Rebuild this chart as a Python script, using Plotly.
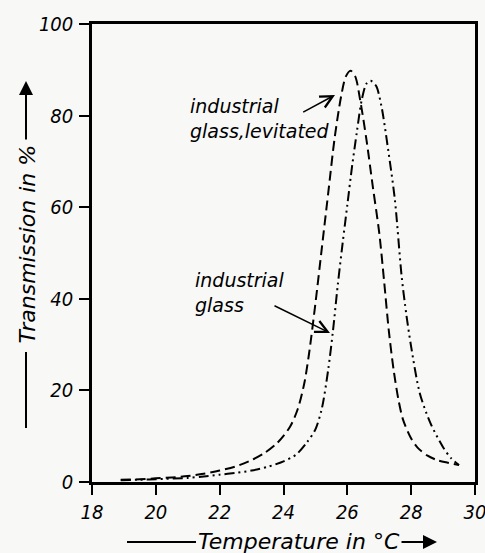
import plotly.graph_objects as go

# ---- data ----
temp_levitated = [18.9, 19.5, 20.0, 20.5, 21.0, 21.5, 22.0, 22.5, 23.0, 23.4, 23.8, 24.2, 24.45,
                  24.65, 24.8, 25.0, 25.2, 25.4, 25.6, 25.8, 25.95, 26.1, 26.25, 26.4, 26.6,
                  26.8, 27.0, 27.15, 27.3, 27.45, 27.6, 27.75, 28.0, 28.2, 28.5, 28.8, 29.15, 29.5]
trans_levitated = [0.5, 0.6, 0.8, 1.0, 1.3, 1.8, 2.5, 3.4, 4.8, 6.3, 8.5, 12.0, 16.0,
                   21.5, 28.0, 39.0, 51.0, 63.0, 75.0, 84.0, 88.5, 89.8, 88.5, 83.5, 74.7,
                   64.4, 54.4, 44.0, 33.0, 24.5, 18.0, 13.5, 9.5, 7.5, 5.8, 4.8, 4.2, 3.7]

temp_industrial = [18.9, 19.5, 20.0, 21.0, 21.5, 22.0, 22.5, 23.0, 23.5, 24.0, 24.4, 24.75, 25.0,
                   25.2, 25.4, 25.55, 25.7, 25.85, 26.0, 26.15, 26.3, 26.45, 26.6, 26.73, 26.9,
                   27.07, 27.28, 27.49, 27.7, 27.85, 28.0, 28.27, 28.6, 29.0, 29.25, 29.5]
trans_industrial = [0.4, 0.5, 0.6, 0.9, 1.2, 1.6, 2.0, 2.5, 3.3, 4.5, 6.0, 8.8, 11.5,
                    16.0, 24.5, 33.0, 43.0, 52.0, 60.5, 69.0, 76.5, 83.4, 87.0, 87.6, 86.5,
                    82.0, 72.5, 61.6, 45.0, 36.5, 29.5, 19.4, 12.9, 7.6, 5.2, 3.7]

x_ticks = [18, 20, 22, 24, 26, 28, 30]
y_ticks = [0, 20, 40, 60, 80, 100]

label_levitated = "industrial<br>glass,levitated"
label_industrial = "industrial<br>glass"
x_title = "Temperature in °C"
y_title = "Transmission in %"

W, H = 485, 553
L, R, T, B = 92, 10, 24, 71
PW, PH = W - L - R, H - T - B


def px(xp):
    return (xp - L) / PW


def py(yp):
    return (H - B - yp) / PH


BG = "#f8f8f7"
TXT_FONT = "DejaVu Sans, Liberation Sans, sans-serif"
NUM_FONT = "DejaVu Sans Condensed, Liberation Sans, sans-serif"

fig = go.Figure()
fig.add_trace(go.Scatter(
    x=temp_levitated, y=trans_levitated, mode="lines",
    line=dict(color="black", width=2, dash="10px,5px", shape="spline", smoothing=0.8),
    name="industrial glass, levitated", showlegend=False))
fig.add_trace(go.Scatter(
    x=temp_industrial, y=trans_industrial, mode="lines",
    line=dict(color="black", width=2, dash="10px,4px,2px,4px,2px,4px", shape="spline", smoothing=0.8),
    name="industrial glass", showlegend=False))

axis_common = dict(showline=True, linecolor="black", linewidth=2.5, mirror=True,
                   ticks="outside", ticklen=10, tickwidth=2, tickcolor="black",
                   showgrid=False, zeroline=False, ticklabeloverflow="allow", automargin=False,
                   tickfont=dict(family=NUM_FONT, size=20, color="black", style="italic"))

fig.update_xaxes(range=[18, 30], tickvals=x_ticks, ticktext=[str(v) for v in x_ticks],
                 ticklabelstandoff=0, **axis_common)
fig.update_yaxes(range=[0, 100], tickvals=y_ticks, ticktext=[str(v) for v in y_ticks],
                 ticklabelstandoff=2, **axis_common)

annots = []
ann_font = dict(family=TXT_FONT, size=19, color="black", style="italic")
# curve labels
annots.append(dict(xref="paper", yref="paper", x=px(188), y=py(118), xanchor="left", yanchor="middle",
                   text=label_levitated, align="left", showarrow=False, font=ann_font))
annots.append(dict(xref="paper", yref="paper", x=px(193), y=py(292.5), xanchor="left", yanchor="middle",
                   text=label_industrial, align="left", showarrow=False, font=ann_font))
# pointer arrows
annots.append(dict(xref="paper", yref="paper", x=px(335), y=py(95), ax=301.7 - 335, ay=113 - 95,
                   text="", showarrow=True, arrowhead=5, arrowsize=1.6, arrowwidth=1.5, arrowcolor="black"))
annots.append(dict(xref="paper", yref="paper", x=px(330), y=py(333), ax=273 - 330, ay=305 - 333,
                   text="", showarrow=True, arrowhead=5, arrowsize=1.6, arrowwidth=1.5, arrowcolor="black"))
# axis titles
title_font = dict(family=TXT_FONT, size=22, color="black", style="italic")
annots.append(dict(xref="paper", yref="paper", x=px(299), y=py(541), xanchor="center", yanchor="middle",
                   text=x_title, showarrow=False, font=title_font))
annots.append(dict(xref="paper", yref="paper", x=px(27), y=py(244.5), xanchor="center", yanchor="middle",
                   text=y_title, textangle=-90, showarrow=False, font=title_font))
# title arrows
annots.append(dict(xref="paper", yref="paper", x=px(437), y=py(542), ax=-37, ay=0,
                   text="", showarrow=True, arrowhead=2, arrowsize=1.4, arrowwidth=2, arrowcolor="black"))
annots.append(dict(xref="paper", yref="paper", x=px(26), y=py(81), ax=0, ay=60,
                   text="", showarrow=True, arrowhead=2, arrowsize=1.4, arrowwidth=2, arrowcolor="black"))

shapes = [
    dict(type="line", xref="paper", yref="paper", x0=px(127), x1=px(196), y0=py(542), y1=py(542),
         line=dict(color="black", width=2)),
    dict(type="line", xref="paper", yref="paper", x0=px(26), x1=px(26), y0=py(352), y1=py(428),
         line=dict(color="black", width=2)),
]

fig.update_layout(width=W, height=H, margin=dict(l=L, r=R, t=T, b=B, autoexpand=False),
                  paper_bgcolor=BG, plot_bgcolor=BG,
                  annotations=annots, shapes=shapes, showlegend=False)

fig.write_html("out.html")
